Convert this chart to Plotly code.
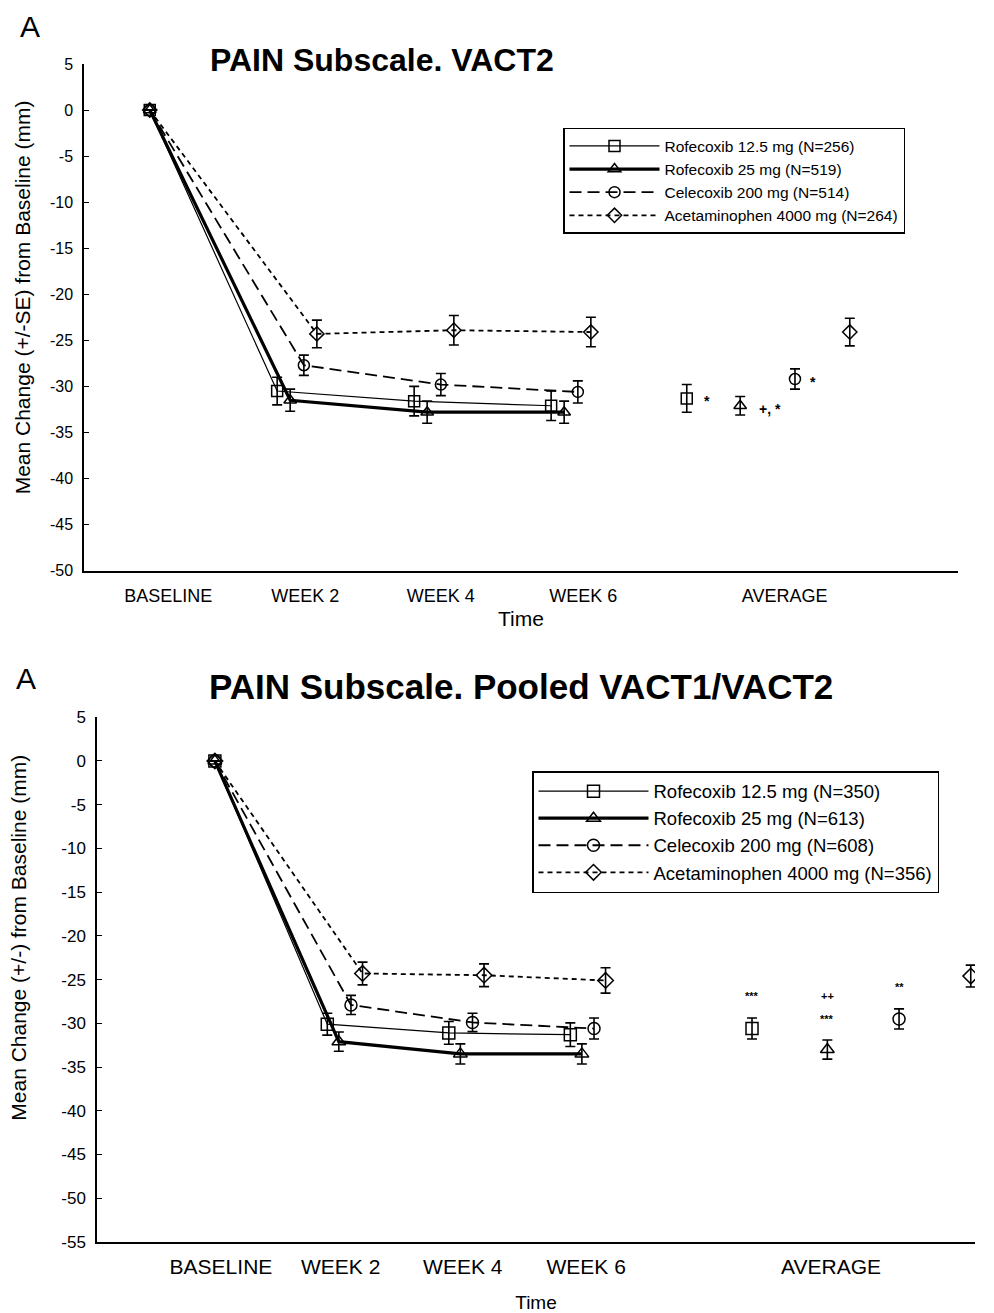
import plotly.graph_objects as go

# ---------------- DATA ----------------
SERIES_TOP = ["Rofecoxib 12.5 mg (N=256)", "Rofecoxib 25 mg (N=519)",
              "Celecoxib 200 mg (N=514)", "Acetaminophen 4000 mg (N=264)"]
SERIES_BOT = ["Rofecoxib 12.5 mg (N=350)", "Rofecoxib 25 mg (N=613)",
              "Celecoxib 200 mg (N=608)", "Acetaminophen 4000 mg (N=356)"]
WEEKS = [2, 4, 6]
TICK_LABELS = ["BASELINE", "WEEK 2", "WEEK 4", "WEEK 6", "AVERAGE"]
Y_TICKS_TOP = [5, 0, -5, -10, -15, -20, -25, -30, -35, -40, -45, -50]
Y_TICKS_BOT = [5, 0, -5, -10, -15, -20, -25, -30, -35, -40, -45, -50, -55]

# Top panel (VACT2) - mean change and SE at week 2, 4, 6
top_rof125 = [-30.5, -31.6, -32.1]; top_rof125_se = [1.5, 1.6, 1.6]
top_rof25 = [-31.5, -32.8, -32.8];  top_rof25_se = [1.2, 1.2, 1.2]
top_cel = [-27.7, -29.8, -30.6];    top_cel_se = [1.1, 1.2, 1.2]
top_ace = [-24.3, -23.9, -24.1];    top_ace_se = [1.5, 1.6, 1.6]
top_avg = [-31.3, -32.1, -29.2, -24.1]
top_avg_se = [1.5, 1.0, 1.1, 1.5]
top_sig = ["*", "+, *", "*", ""]

# Bottom panel (Pooled VACT1/VACT2)
bot_rof125 = [-30.1, -31.1, -31.3]; bot_rof125_se = [1.25, 1.3, 1.35]
bot_rof25 = [-32.1, -33.5, -33.5];  bot_rof25_se = [1.1, 1.15, 1.15]
bot_cel = [-27.9, -29.9, -30.6];    bot_cel_se = [1.1, 1.05, 1.2]
bot_ace = [-24.3, -24.5, -25.1];    bot_ace_se = [1.3, 1.3, 1.45]
bot_avg = [-30.6, -33.0, -29.5, -24.6]
bot_avg_se = [1.2, 1.1, 1.15, 1.25]
bot_sig_upper = ["***", "++", "**", ""]
bot_sig_lower = ["", "***", "", ""]

BASELINE_VALUE = 0

# ---------------- STYLE / LAYOUT ----------------
FONT = "Arial, Liberation Sans, sans-serif"
SYMBOLS = ["square-open", "triangle-up-open", "circle-open", "diamond-open"]
LINE_W = [1.2, 3.2, 1.8, 1.8]
DASHES = ["solid", "solid", "12px,6px", "5px,4px"]
OFFSETS = [-0.29, -0.10, 0.10, 0.29]

# figure is drawn inside the page's 8px body margin
PAD = 8
W, H = 994 - PAD, 1313 - PAD


def px(p):
    return (p - PAD) / W


def py(p):
    page = (p - 9) / 0.988
    return 1 - (page - PAD) / H


TOP = dict(base_x=-0.15, avg_x=[7.69, 8.47, 9.27, 10.07], xr=[-1.11, 11.65],
           ticks=[0.12, 2.12, 4.10, 6.18, 9.12], yr=[-50, 5],
           xd=[px(84), px(958)], yd=[py(572), py(64)])
BOT = dict(base_x=-0.14, avg_x=[8.70, 9.94, 11.12, 12.30], xr=[-2.08, 12.37],
           ticks=[-0.04, 1.93, 3.94, 5.97, 10.0], yr=[-55, 5],
           xd=[px(97), px(975)], yd=[py(1245), py(719)])

fig = go.Figure()


def add_panel(names, vals, ses, avg, avg_se, cfg, xa, ya, legend, msize):
    for i, (nm, v, s) in enumerate(zip(names, vals, ses)):
        xs = [cfg["base_x"]] + [w + OFFSETS[i] for w in WEEKS]
        ys = [BASELINE_VALUE] + v
        es = [0] + s
        fig.add_trace(go.Scatter(
            x=xs, y=ys, name=nm, mode="lines+markers", xaxis=xa, yaxis=ya,
            legend=legend,
            line=dict(color="black", width=LINE_W[i], dash=DASHES[i]),
            marker=dict(symbol=SYMBOLS[i], size=msize, color="black",
                        line=dict(width=1.5)),
            error_y=dict(type="data", array=es, visible=True, color="black",
                         thickness=1.6, width=5),
        ))
        fig.add_trace(go.Scatter(
            x=[cfg["avg_x"][i]], y=[avg[i]], mode="markers", xaxis=xa, yaxis=ya,
            showlegend=False, legend=legend,
            marker=dict(symbol=SYMBOLS[i], size=msize, color="black",
                        line=dict(width=1.5)),
            error_y=dict(type="data", array=[avg_se[i]], visible=True,
                         color="black", thickness=1.6, width=5),
        ))


add_panel(SERIES_TOP, [top_rof125, top_rof25, top_cel, top_ace],
          [top_rof125_se, top_rof25_se, top_cel_se, top_ace_se],
          top_avg, top_avg_se, TOP, "x", "y", "legend", 11)
add_panel(SERIES_BOT, [bot_rof125, bot_rof25, bot_cel, bot_ace],
          [bot_rof125_se, bot_rof25_se, bot_cel_se, bot_ace_se],
          bot_avg, bot_avg_se, BOT, "x2", "y2", "legend2", 12)

ann = []
# significance marks, top panel (to the right of each average marker)
top_sig_dx = [0.30, 0.44, 0.26, 0.0]
for i, t in enumerate(top_sig):
    if t:
        ann.append(dict(x=TOP["avg_x"][i] + top_sig_dx[i], y=top_avg[i] - 0.3,
                        xref="x", yref="y", text="<b>" + t + "</b>",
                        showarrow=False,
                        font=dict(family=FONT, size=14, color="black")))
# significance marks, bottom panel (above each average marker)
bot_sig_y_upper = [-26.9, -26.9, -25.9, 0]
for i, t in enumerate(bot_sig_upper):
    if t:
        ann.append(dict(x=BOT["avg_x"][i], y=bot_sig_y_upper[i],
                        xref="x2", yref="y2", text="<b>" + t + "</b>",
                        showarrow=False,
                        font=dict(family=FONT, size=11, color="black")))
for i, t in enumerate(bot_sig_lower):
    if t:
        ann.append(dict(x=BOT["avg_x"][i], y=-29.5, xref="x2", yref="y2",
                        text="<b>" + t + "</b>", showarrow=False,
                        font=dict(family=FONT, size=11, color="black")))

# panel letters, titles and y-axis titles
ann += [
    dict(x=px(30), y=py(26), xref="paper", yref="paper", text="A",
         xanchor="center", yanchor="middle",
         showarrow=False, font=dict(family=FONT, size=30, color="black")),
    dict(x=px(382), y=py(60), xref="paper", yref="paper",
         xanchor="center", yanchor="middle",
         text="<b>PAIN Subscale. VACT2</b>", showarrow=False,
         font=dict(family=FONT, size=32, color="black")),
    dict(x=px(26), y=py(680), xref="paper", yref="paper", text="A",
         xanchor="center", yanchor="middle",
         showarrow=False, font=dict(family=FONT, size=30, color="black")),
    dict(x=px(521), y=py(688), xref="paper", yref="paper",
         xanchor="center", yanchor="middle",
         text="<b>PAIN Subscale. Pooled VACT1/VACT2</b>", showarrow=False,
         font=dict(family=FONT, size=35, color="black")),
    dict(x=px(22), y=py(298), xref="paper", yref="paper", textangle=-90,
         xanchor="center", yanchor="middle",
         text="Mean Change (+/-SE) from Baseline (mm)", showarrow=False,
         font=dict(family=FONT, size=21, color="black")),
    dict(x=px(19), y=py(940), xref="paper", yref="paper", textangle=-90,
         xanchor="center", yanchor="middle",
         text="Mean Change (+/-) from Baseline (mm)", showarrow=False,
         font=dict(family=FONT, size=21, color="black")),
]

base_axis = dict(showline=True, linecolor="black", linewidth=1.5,
                 showgrid=False, zeroline=False, mirror=False)

fig.update_layout(
    width=W, height=H, margin=dict(l=0, r=0, t=0, b=0),
    paper_bgcolor="white", plot_bgcolor="white",
    font=dict(family=FONT, color="black"),
    annotations=ann,
    xaxis=dict(domain=TOP["xd"], range=TOP["xr"], anchor="y",
               tickvals=TOP["ticks"], ticktext=TICK_LABELS, ticks="",
               ticklabelstandoff=8,
               tickfont=dict(family=FONT, size=18, color="black"),
               title=dict(text="Time", font=dict(family=FONT, size=21),
                          standoff=6),
               **base_axis),
    yaxis=dict(domain=TOP["yd"], range=TOP["yr"], anchor="x",
               tickvals=Y_TICKS_TOP, ticktext=[str(v) for v in Y_TICKS_TOP],
               ticks="inside", ticklen=5, tickcolor="black",
               ticklabelstandoff=6,
               tickfont=dict(family=FONT, size=16, color="black"),
               **base_axis),
    xaxis2=dict(domain=BOT["xd"], range=BOT["xr"], anchor="y2",
                tickvals=BOT["ticks"], ticktext=TICK_LABELS, ticks="",
                ticklabelstandoff=5,
                tickfont=dict(family=FONT, size=21, color="black"),
                title=dict(text="Time", font=dict(family=FONT, size=19),
                           standoff=20),
                **base_axis),
    yaxis2=dict(domain=BOT["yd"], range=BOT["yr"], anchor="x2",
                tickvals=Y_TICKS_BOT, ticktext=[str(v) for v in Y_TICKS_BOT],
                ticks="inside", ticklen=5, tickcolor="black",
                ticklabelstandoff=6,
                tickfont=dict(family=FONT, size=17, color="black"),
                **base_axis),
    legend=dict(x=px(563), y=py(128), xanchor="left", yanchor="top",
                bgcolor="white", bordercolor="black", borderwidth=1.5,
                font=dict(family=FONT, size=15.5, color="black"),
                tracegroupgap=0, itemwidth=90),
    legend2=dict(x=px(532), y=py(773), xanchor="left", yanchor="top",
                 bgcolor="white", bordercolor="black", borderwidth=1.5,
                 font=dict(family=FONT, size=18.5, color="black"),
                 tracegroupgap=0, itemwidth=110),
    showlegend=True,
)

fig.write_html("out.html")
